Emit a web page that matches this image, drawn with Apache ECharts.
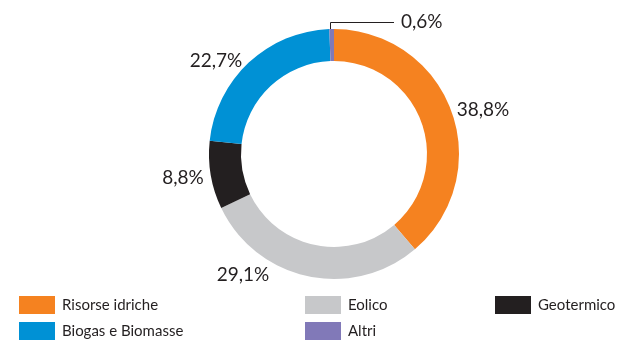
<!DOCTYPE html>
<html>
<head>
<meta charset="utf-8">
<script src="https://cdn.jsdelivr.net/npm/echarts@6/dist/echarts.min.js"></script>
<style>
  html, body { margin: 0; padding: 0; background: #fff; }
  #chart { width: 617px; height: 342px; }
</style>
</head>
<body>
<div id="chart"></div>
<script>
// Energy sources share (%), clockwise from 12 o'clock
const sources = ['Risorse idriche', 'Eolico', 'Geotermico', 'Biogas e Biomasse', 'Altri'];
const shares = [38.8, 29.1, 8.8, 22.7, 0.6];
const colors = ['#f58220', '#c7c8ca', '#231f20', '#0091d5', '#8179b8'];

// Legend columns (row-major reading: first row, then second row)
const legendColumns = [
  ['Risorse idriche', 'Biogas e Biomasse'],
  ['Eolico', 'Altri'],
  ['Geotermico']
];
const legendLefts = [19, 305, 495];

// Where each percentage label sits (text centre), and the callout for the thin slice
const labelSpots = [
  { x: 483, y: 110, align: 'center' },
  { x: 243, y: 275, align: 'center' },
  { x: 183, y: 178, align: 'center' },
  { x: 216, y: 61, align: 'center' },
  { x: 401, y: 22, align: 'left', callout: true }
];

const textColor = '#231f20';
const font = 'Lato, "Open Sans", sans-serif';

const chart = echarts.init(document.getElementById('chart'), null, { renderer: 'canvas' });

const fmt = v => v.toFixed(1).replace('.', ',') + '%';

chart.setOption({
  animation: false,
  backgroundColor: '#ffffff',
  legend: legendColumns.map((items, i) => ({
    data: items,
    orient: 'vertical',
    left: legendLefts[i],
    top: 296,
    itemWidth: 36,
    itemHeight: 18,
    itemGap: 8,
    icon: 'rect',
    selectedMode: false,
    padding: 0,
    textStyle: {
      color: textColor,
      fontFamily: font,
      fontSize: 15,
      padding: [3, 0, 0, 2]
    }
  })),
  series: [{
    type: 'pie',
    center: [334, 154],
    radius: [93, 125],
    startAngle: 90,
    clockwise: true,
    avoidLabelOverlap: false,
    silent: true,
    emphasis: { disabled: true },
    itemStyle: { borderWidth: 0 },
    data: sources.map((name, i) => ({
      name,
      value: shares[i],
      itemStyle: { color: colors[i] },
      labelLine: {
        show: !!labelSpots[i].callout,
        length: 7,
        length2: 60,
        lineStyle: { color: textColor, width: 1 }
      }
    })),
    label: {
      show: true,
      position: 'outside',
      formatter: p => fmt(p.value),
      color: textColor,
      fontFamily: font,
      fontSize: 19
    },
    labelLayout: params => {
      const spot = labelSpots[params.dataIndex];
      const out = {
        x: spot.x,
        y: spot.y,
        align: spot.align,
        verticalAlign: 'middle'
      };
      if (spot.callout && params.labelLinePoints) {
        const p0 = params.labelLinePoints[0];
        const vx = Math.round(p0[0]) - 1.5;
        out.labelLinePoints = [[vx, p0[1]], [vx, spot.y + 0.5], [spot.x - 7, spot.y + 0.5]];
      }
      return out;
    }
  }]
});
</script>
</body>
</html>
